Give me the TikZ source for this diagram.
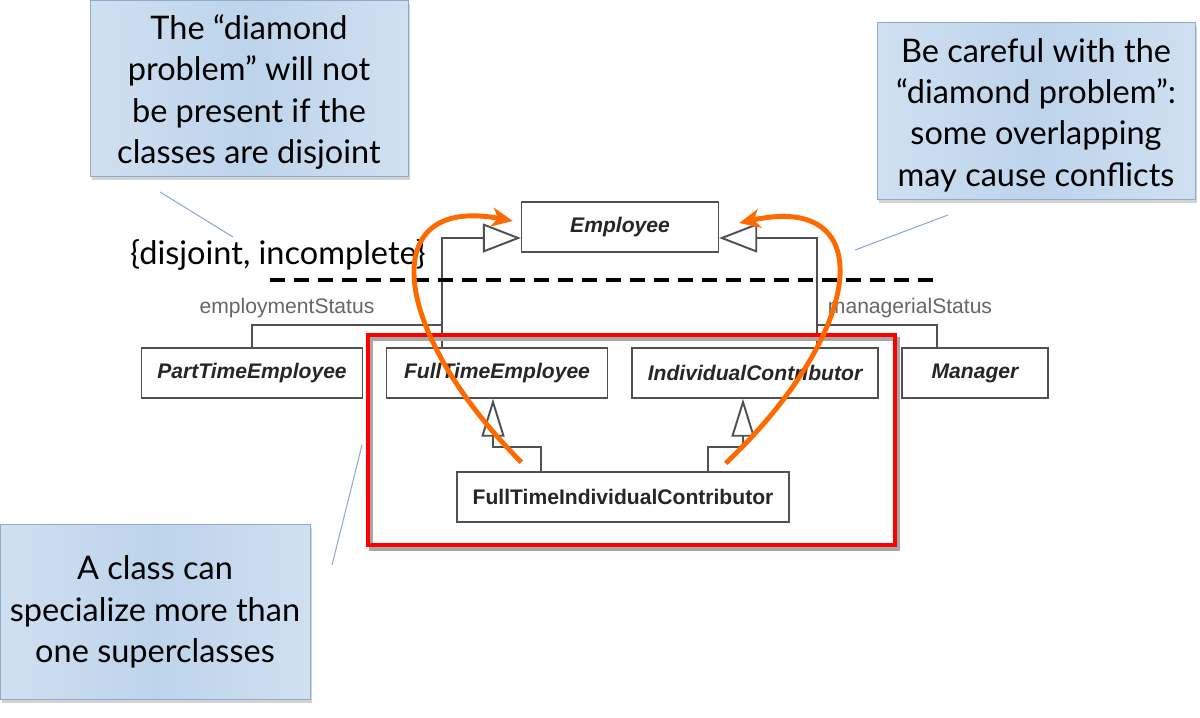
\documentclass[tikz,border=0pt]{standalone}
\usepackage{fontspec}
\setmainfont{Lato}
\newfontfamily\umlfont{Liberation Sans}
\usetikzlibrary{calc}
\usetikzlibrary{shadows}
\usetikzlibrary{arrows.meta}
\definecolor{noteblue}{RGB}{189,212,235}
\definecolor{notelight}{RGB}{208,224,241}
\definecolor{noteline}{RGB}{140,172,206}
\definecolor{curveorange}{RGB}{255,106,0}
\definecolor{umlgray}{RGB}{80,80,80}

\begin{document}
\begin{tikzpicture}[x=0.02cm, y=-0.02cm,
  note/.style={draw=noteline, left color=notelight, right color=notelight, middle color=noteblue, align=center, inner sep=0pt, font=\fontsize{18.5}{23.5}\selectfont, drop shadow={shadow xshift=1pt, shadow yshift=-2pt, opacity=0.35}},
  notetext/.style={align=center, font=\fontsize{18.5}{23.5}\selectfont},
  classbox/.style={draw=umlgray, line width=0.8pt, fill=white, minimum height=1cm, inner sep=0pt, text=black!85, font=\umlfont\bfseries\itshape\fontsize{12}{14}\selectfont},
  status/.style={fill=white, inner sep=1pt, text=black!60, font=\umlfont\fontsize{12}{14}\selectfont},
  genline/.style={draw=umlgray, line width=1.1pt},
  genup/.style={genline, -{Triangle[open, length=0.76cm, width=0.58cm]}},
  gendown/.style={genline, -{Triangle[open, length=0.76cm, width=0.46cm]}},
  pointer/.style={draw=noteline, line width=0.6pt},
  curve/.style={draw=curveorange, line width=2.8pt, -{Stealth[length=0.42cm, width=0.38cm, inset=0.12cm]}}]
\useasboundingbox (0,0) rectangle (1200,717);

\node[note, minimum width=6.36cm, minimum height=3.52cm] (notedisjoint) at (249,88) {};
\node[notetext] (textdisjoint) at (249,92) {The ``diamond\\problem'' will not\\be present if the\\classes are disjoint};
\node[note, minimum width=6.36cm, minimum height=3.54cm] (notecareful) at (1036,111) {};
\node[notetext] (textcareful) at (1036,115) {Be careful with the\\``diamond problem'':\\some overlapping\\may cause conflicts};
\node[note, minimum width=6.2cm, minimum height=3.5cm] (notespecial) at (155,612) {A class can\\specialize more than\\one superclasses};

\draw[pointer] (160,192) -- (233,237);
\draw[pointer] (855,250) -- (948,215);
\draw[pointer] (332,565) -- (362,445);

\node[classbox, minimum width=3.94cm] (emp) at (620,227) {Employee};
\node[classbox, minimum width=4.42cm] (pte) at (252,373) {PartTimeEmployee};
\node[classbox, minimum width=4.42cm] (fte) at (497,373) {FullTimeEmployee};
\node[classbox, minimum width=4.92cm] (ic) at (755,373) {IndividualContributor};
\node[classbox, minimum width=2.92cm] (mgr) at (975,373) {Manager};
\node[classbox, minimum width=6.64cm, font=\umlfont\bfseries\fontsize{12}{14}\selectfont] (ftic) at (623,497) {FullTimeIndividualContributor};

\coordinate (lj) at (442,238);
\coordinate (lb) at (442,325);
\coordinate (rj) at (817,238);
\coordinate (rb) at (817,325);

\draw[genup] (fte.north -| lj) |- (lj -| emp.west);
\draw[genline] (pte.north) |- (lb);
\draw[genup] (ic.north -| rj) |- (rj -| emp.east);
\draw[genline] (rb) -| ($(mgr.north west)+(36,0)$);
\draw[gendown] ($(ftic.north west)+(85,0)$) -- ++(0,-24) -| ($(fte.south)+(-4,0)$);
\draw[gendown] ($(ftic.north east)+(-82,0)$) -- ++(0,-24) -| ($(ic.south)+(-12,0)$);

\node[status] (empstatus) at (287,308) {employmentStatus};
\node[status] (mgrstatus) at (910,308) {managerialStatus};

\draw[black, line width=2pt, dash pattern=on 0.3cm off 0.18cm] (270,280) -- (940,280);
\node[font=\fontsize{18.5}{23.5}\selectfont] (constraint) at (278,255) {\{disjoint, incomplete\}};

\draw[black!35, line width=2.2pt] (371,339) rectangle (898,549);
\draw[red, line width=2.2pt] (368,335) rectangle (895,545);

\draw[curve] ($(ftic.north west)+(65,-9)$) .. controls (390,330) and (375,195) .. ($(emp.west)+(-8,-6)$);
\draw[curve] ($(ftic.north east)+(-64,-8)$) .. controls (866,330) and (880,192) .. ($(emp.east)+(20,-4)$);
\end{tikzpicture}
\end{document}
